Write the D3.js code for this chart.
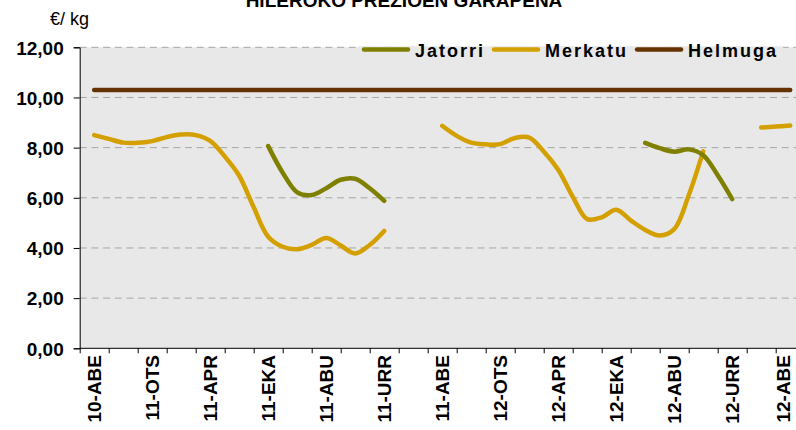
<!DOCTYPE html>
<html>
<head>
	<meta charset="utf-8">
	<style>
		body { margin: 0; background: #fff; }
		svg text { font-family: "Liberation Sans", Arial, sans-serif; }
	</style>
</head>
<body>

	<div id="graph"></div>

	<script src="https://cdnjs.cloudflare.com/ajax/libs/d3/7.8.5/d3.min.js"></script>

	<script>
		// hilabeteak (abendua 2010 - abendua 2012)
		const months = ['10-ABE', '11-URT', '11-OTS', '11-MAR', '11-APR', '11-MAI', '11-EKA',
			'11-UZT', '11-ABU', '11-IRA', '11-URR', '11-AZA', '11-ABE', '12-URT', '12-OTS',
			'12-MAR', '12-APR', '12-MAI', '12-EKA', '12-UZT', '12-ABU', '12-IRA', '12-URR',
			'12-AZA', '12-ABE'];

		// hamabostaldiko balioak (indizea / 2 = hilabetea)
		const merkatu = [8.50, 8.35, 8.20, 8.19, 8.26, 8.42, 8.52, 8.50, 8.27, 7.65, 6.88,
			5.62, 4.45, 4.05, 3.95, 4.12, 4.40, 4.10, 3.78, 4.12, 4.68,
			null, null, null,
			8.87, 8.47, 8.20, 8.13, 8.14, 8.38, 8.40, 7.85, 7.12, 6.05, 5.15, 5.22, 5.52,
			5.10, 4.72, 4.50, 4.75, 6.10, 7.85,
			null, null, null,
			8.80, 8.84, 8.88];

		const jatorri = [null, null, null, null, null, null, null, null, null, null, null, null,
			8.06, 7.00, 6.22, 6.11, 6.38, 6.72, 6.76, 6.38, 5.88,
			null, null, null, null, null, null, null, null, null, null, null, null, null,
			null, null, null, null,
			8.19, 7.98, 7.84, 7.93, 7.70, 6.90, 5.95,
			null, null, null, null];

		// hileko helmuga
		const helmuga = [10.3, 10.3, 10.3, 10.3, 10.3, 10.3, 10.3, 10.3, 10.3, 10.3, 10.3,
			10.3, 10.3, 10.3, 10.3, 10.3, 10.3, 10.3, 10.3, 10.3, 10.3, 10.3, 10.3, 10.3, 10.3];

		const yTicks = [0, 2, 4, 6, 8, 10, 12];

		const series = [
			{ name: 'Jatorri', color: '#808000', values: jatorri, step: 0.5 },
			{ name: 'Merkatu', color: '#d4a000', values: merkatu, step: 0.5 },
			{ name: 'Helmuga', color: '#663300', values: helmuga, step: 1 }
		];

		const W = 796;
		const H = 430;
		const plot = { left: 79.7, right: 804.7, top: 47.3, bottom: 348.3 };

		const svg = d3.select('#graph')
			.append('svg')
			.attr('width', W)
			.attr('height', H);

		const x = d3.scaleLinear()
			.domain([-0.5, months.length - 0.5])
			.range([plot.left, plot.right]);

		const xBand = d3.scaleBand()
			.domain(months)
			.range([plot.left, plot.right]);

		const y = d3.scaleLinear()
			.domain([0, 12])
			.range([plot.bottom, plot.top]);

		// plot background
		svg.append('rect')
			.attr('x', plot.left)
			.attr('y', plot.top)
			.attr('width', plot.right - plot.left)
			.attr('height', plot.bottom - plot.top)
			.attr('fill', '#e8e8e8');

		// grid
		svg.append('g')
			.selectAll('line')
			.data(yTicks.filter(d => d > 0))
			.join('line')
				.attr('x1', plot.left)
				.attr('x2', plot.right)
				.attr('y1', d => y(d))
				.attr('y2', d => y(d))
				.attr('stroke', '#a6a6a6')
				.attr('stroke-width', 1)
				.attr('stroke-dasharray', '7,4.7');

		// legend box hides the top gridline
		svg.append('rect')
			.attr('x', 358)
			.attr('y', plot.top - 1)
			.attr('width', 425)
			.attr('height', 3)
			.attr('fill', '#e8e8e8');

		// axes
		const yAxis = d3.axisLeft(y)
			.tickValues(yTicks)
			.tickSize(6)
			.tickFormat(d => d3.format('.2f')(d).replace('.', ','));

		const gy = svg.append('g')
			.attr('transform', `translate(${plot.left}, 0)`)
			.call(yAxis);
		gy.select('.domain').attr('stroke', '#000');
		gy.selectAll('.tick line').attr('stroke', '#000');
		gy.selectAll('.tick text')
			.attr('x', -16)
			.attr('dy', '0.36em')
			.style('font-size', '19px')
			.style('font-weight', 'bold')
			.attr('fill', '#000');

		const xTicks = d3.axisBottom(x)
			.tickValues(d3.range(-0.5, months.length, 1))
			.tickSize(5)
			.tickFormat('');

		const gx = svg.append('g')
			.attr('transform', `translate(0, ${plot.bottom})`)
			.call(xTicks);
		gx.select('.domain').attr('stroke', '#000').attr('d', `M${plot.left},0H${plot.right}`);
		gx.selectAll('.tick line').attr('stroke', '#000');

		// last label is pushed back inside the picture
		const labelX = d => Math.min(xBand(d) + xBand.bandwidth() / 2, W - 13);

		svg.append('g')
			.selectAll('text')
			.data(months.filter((d, i) => i % 2 === 0))
			.join('text')
				.attr('transform', d => `translate(${labelX(d)}, 355) rotate(-90)`)
				.attr('text-anchor', 'end')
				.attr('dy', '0.36em')
				.style('font-size', '19px')
				.style('font-weight', 'bold')
				.text(d => d);

		// lines
		const line = step => d3.line()
			.defined(d => d !== null)
			.x((d, i) => x(i * step))
			.y(d => y(d))
			.curve(d3.curveCatmullRom.alpha(0.5));

		// helmuga first, then merkatu, jatorri
		[series[2], series[1], series[0]].forEach(s => {
			svg.append('path')
				.attr('d', line(s.step)(s.values))
				.attr('fill', 'none')
				.attr('stroke', s.color)
				.attr('stroke-width', 4.5)
				.attr('stroke-linecap', 'round')
				.attr('stroke-linejoin', 'round');
		});

		// legend
		let lx = 362;
		series.forEach(s => {
			svg.append('line')
				.attr('x1', lx + 2)
				.attr('x2', lx + 46)
				.attr('y1', 49.5)
				.attr('y2', 49.5)
				.attr('stroke', s.color)
				.attr('stroke-width', 4.5)
				.attr('stroke-linecap', 'round');
			const t = svg.append('text')
				.attr('x', lx + 53)
				.attr('y', 56.5)
				.style('font-size', '18px')
				.style('font-weight', 'bold')
				.style('letter-spacing', '2px')
				.text(s.name);
			lx += 53 + t.node().getComputedTextLength() + 7;
		});

		// titles
		svg.append('text')
			.attr('x', 404)
			.attr('y', 7)
			.attr('text-anchor', 'middle')
			.style('font-size', '19px')
			.style('font-weight', 'bold')
			.text('HILEROKO PREZIOEN GARAPENA');

		svg.append('text')
			.attr('x', 50)
			.attr('y', 25)
			.style('font-size', '18px')
			.text('€/ kg');
	</script>

</body>
</html>
